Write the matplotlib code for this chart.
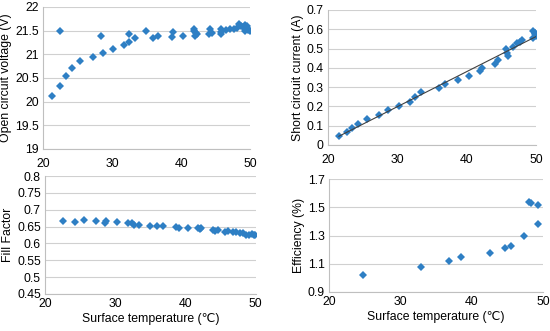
import numpy as np
import matplotlib
matplotlib.use("Agg")
import matplotlib.pyplot as plt

plt.rcParams['font.family'] = ['Liberation Sans', 'DejaVu Sans']

# Open circuit voltage
voc_t = [21.35, 22.5, 22.5, 23.3, 24.2, 25.4, 27.3, 28.4, 28.7, 30.2, 31.8, 32.4, 32.4, 33.3,
         34.9, 35.9, 36.7, 38.7, 38.8, 40.2, 41.8, 41.9, 42.0, 42.1, 42.3, 44.0, 44.2, 44.5,
         45.7, 45.7, 45.8, 46.5, 47.1, 47.6, 48.1, 48.4, 48.6, 48.9, 49.2, 49.4, 49.5, 49.6,
         49.7, 49.9, 49.3]
voc_v = [20.11, 21.50, 20.33, 20.54, 20.70, 20.85, 20.94, 21.39, 21.03, 21.11, 21.19, 21.42,
         21.27, 21.35, 21.50, 21.34, 21.39, 21.36, 21.48, 21.39, 21.50, 21.54, 21.38, 21.46,
         21.42, 21.42, 21.53, 21.44, 21.47, 21.54, 21.42, 21.52, 21.53, 21.53, 21.56, 21.63,
         21.59, 21.58, 21.61, 21.53, 21.56, 21.59, 21.52, 21.50, 21.50]

# Short circuit current
isc_t = [21.6, 22.7, 23.5, 24.4, 25.6, 27.4, 28.7, 30.3, 31.9, 32.6, 33.4, 36.0, 36.8, 38.7,
         40.3, 41.9, 42.2, 44.0, 44.5, 45.7, 45.8, 45.9, 46.6, 47.3, 47.6, 48.0, 49.5, 49.8,
         49.9, 49.6, 49.8]
isc_a = [0.049, 0.068, 0.089, 0.108, 0.134, 0.156, 0.181, 0.201, 0.224, 0.247, 0.273, 0.294,
         0.318, 0.339, 0.358, 0.382, 0.399, 0.422, 0.443, 0.495, 0.478, 0.460, 0.510, 0.526,
         0.533, 0.542, 0.591, 0.577, 0.565, 0.556, 0.583]

# Fill factor
ff_t = [22.5, 24.3, 25.5, 27.3, 28.5, 28.7, 30.2, 31.8, 32.4, 32.6, 33.4, 34.9, 35.9, 36.8,
        38.7, 39.0, 40.3, 41.8, 42.0, 42.2, 43.9, 44.2, 44.6, 45.6, 46.0, 46.7, 47.2, 47.8,
        48.2, 48.6, 49.1, 49.4, 49.7, 49.9]
ff_v = [0.666, 0.664, 0.670, 0.666, 0.662, 0.666, 0.663, 0.662, 0.660, 0.656, 0.655, 0.653,
        0.653, 0.651, 0.649, 0.647, 0.647, 0.645, 0.642, 0.645, 0.641, 0.637, 0.639, 0.635,
        0.636, 0.635, 0.633, 0.630, 0.630, 0.625, 0.625, 0.627, 0.624, 0.626]

# Efficiency
eff_t = [24.8, 32.9, 36.9, 38.5, 42.6, 44.7, 45.5, 47.4, 48.1, 48.3, 49.3, 49.3]
eff_v = [1.020, 1.075, 1.119, 1.150, 1.176, 1.209, 1.228, 1.299, 1.540, 1.528, 1.516, 1.384]

COLOR = '#2e7fc4'
GRID = '#d0d0d0'
FS = 8.8
MS = 4.0

fig = plt.figure(figsize=(5.5, 3.31), dpi=100)

def style(ax, ylim, yticks, ylabel, xlabel=None, xpad=3):
    ax.set_xlim(20, 50)
    ax.set_xticks([20, 30, 40, 50])
    ax.set_ylim(*ylim)
    ax.set_yticks(yticks)
    ax.grid(axis='y', color=GRID, linewidth=0.8)
    ax.set_axisbelow(True)
    for s in ['top', 'right']:
        ax.spines[s].set_visible(False)
    for s in ['left', 'bottom']:
        ax.spines[s].set_color('#bfbfbf')
        ax.spines[s].set_linewidth(0.8)
    ax.tick_params(length=0, labelsize=FS)
    ax.tick_params(axis='y', pad=3)
    ax.tick_params(axis='x', pad=xpad)
    ax.set_ylabel(ylabel, fontsize=FS, labelpad=2)
    if xlabel:
        ax.set_xlabel(xlabel, fontsize=FS, labelpad=2)

ax1 = fig.add_axes([0.078, 0.550, 0.377, 0.429])
ax1.plot(voc_t, voc_v, 'D', color=COLOR, ms=MS, mew=0)
style(ax1, (19, 22), [19, 19.5, 20, 20.5, 21, 21.5, 22], 'Open circuit voltage (V)', xpad=6.5)
ax1.set_yticklabels(['19', '19.5', '20', '20.5', '21', '21.5', '22'])

ax2 = fig.add_axes([0.596, 0.562, 0.379, 0.408])
ax2.plot(isc_t, isc_a, 'D', color=COLOR, ms=MS, mew=0)
coef = np.polyfit(isc_t, isc_a, 1)
xx = np.array([min(isc_t), 50])
ax2.plot(xx, np.polyval(coef, xx), color='#404040', lw=0.8)
style(ax2, (0, 0.7), [0, 0.1, 0.2, 0.3, 0.4, 0.5, 0.6, 0.7], 'Short circuit current (A)', xpad=6.5)
ax2.set_yticklabels(['0', '0.1', '0.2', '0.3', '0.4', '0.5', '0.6', '0.7'])

ax3 = fig.add_axes([0.082, 0.112, 0.383, 0.356])
ax3.plot(ff_t, ff_v, 'D', color=COLOR, ms=MS, mew=0)
style(ax3, (0.45, 0.8), [0.45, 0.5, 0.55, 0.6, 0.65, 0.7, 0.75, 0.8], 'Fill Factor',
      'Surface temperature (\u2103)')
ax3.set_yticklabels(['0.45', '0.5', '0.55', '0.6', '0.65', '0.7', '0.75', '0.8'])

ax4 = fig.add_axes([0.598, 0.118, 0.389, 0.341])
ax4.plot(eff_t, eff_v, 'D', color=COLOR, ms=MS, mew=0)
style(ax4, (0.9, 1.7), [0.9, 1.1, 1.3, 1.5, 1.7], 'Efficiency (%)',
      'Surface temperature (\u2103)')
ax4.set_yticklabels(['0.9', '1.1', '1.3', '1.5', '1.7'])

fig.savefig('out.png', dpi=100)
